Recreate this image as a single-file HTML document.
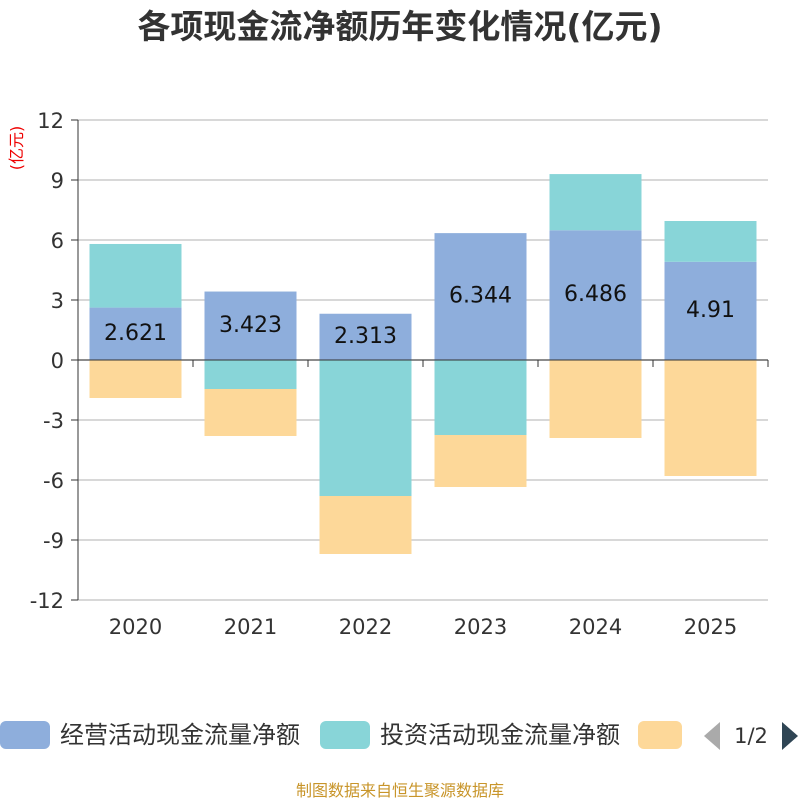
<!DOCTYPE html>
<html><head><meta charset="utf-8"><style>
body{margin:0;background:#fff;font-family:"Liberation Sans","Noto Sans CJK SC",sans-serif}
</style></head><body>
<svg width="800" height="800" xmlns="http://www.w3.org/2000/svg" font-family="DejaVu Sans, Noto Sans CJK SC, sans-serif">
<text x="400" y="38" text-anchor="middle" font-size="33" font-weight="bold" fill="#333" font-family="DejaVu Sans, Noto Sans CJK SC, sans-serif">各项现金流净额历年变化情况(亿元)</text>
<text transform="translate(22,148) rotate(-90)" text-anchor="middle" font-size="16" fill="#e00">(亿元)</text>
<g id="grid"></g><g id="bars"></g><g id="axes"></g>
<g>
<rect x="0" y="721" width="50" height="28" rx="6" fill="#8eaedc"/>
<text x="60" y="743" font-size="24" fill="#333">经营活动现金流量净额</text>
<rect x="320" y="721" width="50" height="28" rx="6" fill="#88d5d8"/>
<text x="380" y="743" font-size="24" fill="#333">投资活动现金流量净额</text>
<rect x="638" y="721" width="44" height="28" rx="6" fill="#fdd899"/>
<polygon points="720,722 720,750 704,736" fill="#aaa"/>
<text x="751" y="743" text-anchor="middle" font-size="21" fill="#333">1/2</text>
<polygon points="782,722 782,750 798,736" fill="#2f4554"/>
</g>
<text x="400" y="796" text-anchor="middle" font-size="16" fill="#c8952a">制图数据来自恒生聚源数据库</text>
</svg>
<script>
const categories=["2020","2021","2022","2023","2024","2025"];
const operating=[2.621,3.423,2.313,6.344,6.486,4.91];
const investing=[3.18,-1.45,-6.8,-3.75,2.81,2.04];
const financing=[-1.9,-2.35,-2.9,-2.6,-3.9,-5.8];
const yTicks=[12,9,6,3,0,-3,-6,-9,-12];
const NS="http://www.w3.org/2000/svg";
const x0=78,x1=768,yTop=120,yBot=600,yMax=12,yMin=-12;
const y=v=>yTop+(yMax-v)/(yMax-yMin)*(yBot-yTop);
const band=(x1-x0)/categories.length,bw=92;
function mk(t,a,p){const e=document.createElementNS(NS,t);for(const k in a)e.setAttribute(k,a[k]);document.getElementById(p).appendChild(e);return e;}
yTicks.forEach(t=>{
 const l=mk('line',{x1:x0,x2:x1,y1:y(t),y2:y(t),stroke:'#ccc','stroke-width':1.5},'grid');
 
 
 const tk=mk('line',{x1:x0-7,x2:x0,y1:y(t),y2:y(t),stroke:'#333'},'axes');
 
 
 const tx=mk('text',{x:x0-14,y:y(t)+8,'text-anchor':'end','font-size':21,fill:'#333'},'axes');
 tx.textContent=t;
 
 
});
const ya=mk('line',{x1:x0,x2:x0,y1:yTop,y2:yBot,stroke:'#333'},'axes');


const xa=mk('line',{x1:x0,x2:x1,y1:y(0),y2:y(0),stroke:'#333'},'axes');


for(let i=0;i<=categories.length;i++){
 const t=mk('line',{x1:x0+i*band,x2:x0+i*band,y1:y(0),y2:y(0)+7,stroke:'#333'},'axes');
 
 
}
function bar(cx,a,b,col,name){
 const r=mk('rect',{x:cx-bw/2,y:Math.min(y(a),y(b)),width:bw,height:Math.abs(y(a)-y(b)),fill:col},'bars');
 
 
}
categories.forEach((c,i)=>{
 const cx=x0+band*(i+0.5);
 let pos=0,neg=0;
 [[operating[i],'#8eaedc','bar-operating-'+c],[investing[i],'#88d5d8','bar-investing-'+c],[financing[i],'#fdd899','bar-financing-'+c]].forEach(([v,col,n])=>{
  if(v>=0){bar(cx,pos,pos+v,col,n);pos+=v;}else{bar(cx,neg,neg+v,col,n);neg+=v;}
 });
 const lb=mk('text',{x:cx,y:y(operating[i]/2)+6,'text-anchor':'middle','font-size':22,fill:'#111'},'bars');
 lb.textContent=operating[i];
 
 
 const xl=mk('text',{x:cx,y:634,'text-anchor':'middle','font-size':21,fill:'#333'},'axes');
 xl.textContent=c;
 
 
});
</script>
</body></html>
